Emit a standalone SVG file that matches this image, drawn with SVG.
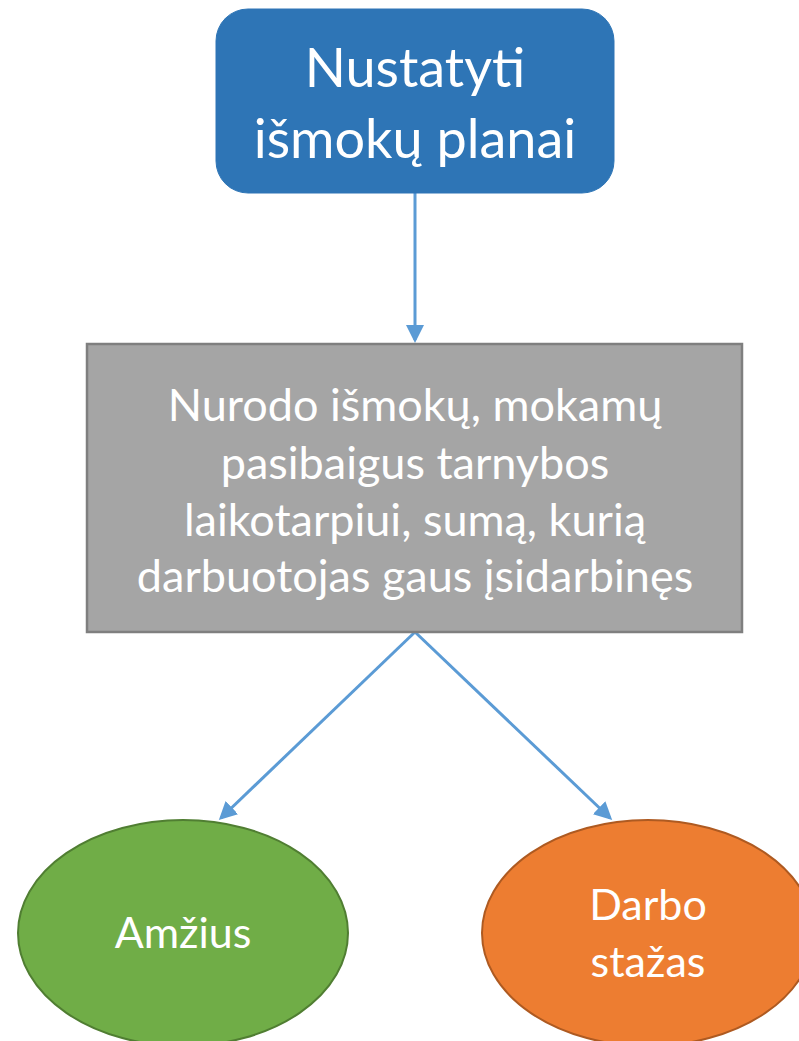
<svg xmlns="http://www.w3.org/2000/svg" width="799" height="1041" viewBox="0 0 799 1041">
<style>
text{font-family:Lato,"Open Sans","Liberation Sans",sans-serif;fill:#fff;text-anchor:middle}
.big{font-size:54px}
.mid{font-size:45px}
.oval{font-size:43px}
.conn{stroke:#5b9bd5;stroke-width:3;fill:none}
</style>
<defs>
<marker id="ah" markerWidth="6" markerHeight="6" refX="5" refY="3" orient="auto" markerUnits="strokeWidth">
<path d="M0,0 L6,3 L0,6 z" fill="#5b9bd5"/>
</marker>
</defs>
<rect width="799" height="1041" fill="#fff"/>
<g id="connectors">
<line class="conn" x1="415" y1="193" x2="415" y2="340" marker-end="url(#ah)"/>
<line class="conn" x1="415" y1="632" x2="221" y2="818" marker-end="url(#ah)"/>
<line class="conn" x1="415" y1="632" x2="610" y2="818" marker-end="url(#ah)"/>
</g>
<g id="node-top">
<rect x="216" y="9" width="398" height="184" rx="32" fill="#2e75b6" stroke="#2e75b6" stroke-width="1"/>
<text class="big" x="415" y="87">Nustatyti</text>
<text class="big" x="415" y="158">išmokų planai</text>
</g>
<g id="node-mid">
<rect x="87" y="344" width="655" height="288" fill="#a5a5a5" stroke="#7f7f7f" stroke-width="2.5"/>
<text class="mid" x="415" y="421">Nurodo išmokų, mokamų</text>
<text class="mid" x="415" y="479">pasibaigus tarnybos</text>
<text class="mid" x="415" y="536">laikotarpiui, sumą, kurią</text>
<text class="mid" x="415" y="592">darbuotojas gaus įsidarbinęs</text>
</g>
<g id="node-age">
<ellipse cx="183" cy="933" rx="165" ry="113" fill="#70ad47" stroke="#507e32" stroke-width="2"/>
<text class="oval" x="183" y="948">Amžius</text>
</g>
<g id="node-exp">
<ellipse cx="648" cy="933" rx="166" ry="113" fill="#ed7d31" stroke="#ae5a21" stroke-width="2"/>
<text class="oval" x="648" y="920">Darbo</text>
<text class="oval" x="648" y="977">stažas</text>
</g>
</svg>
